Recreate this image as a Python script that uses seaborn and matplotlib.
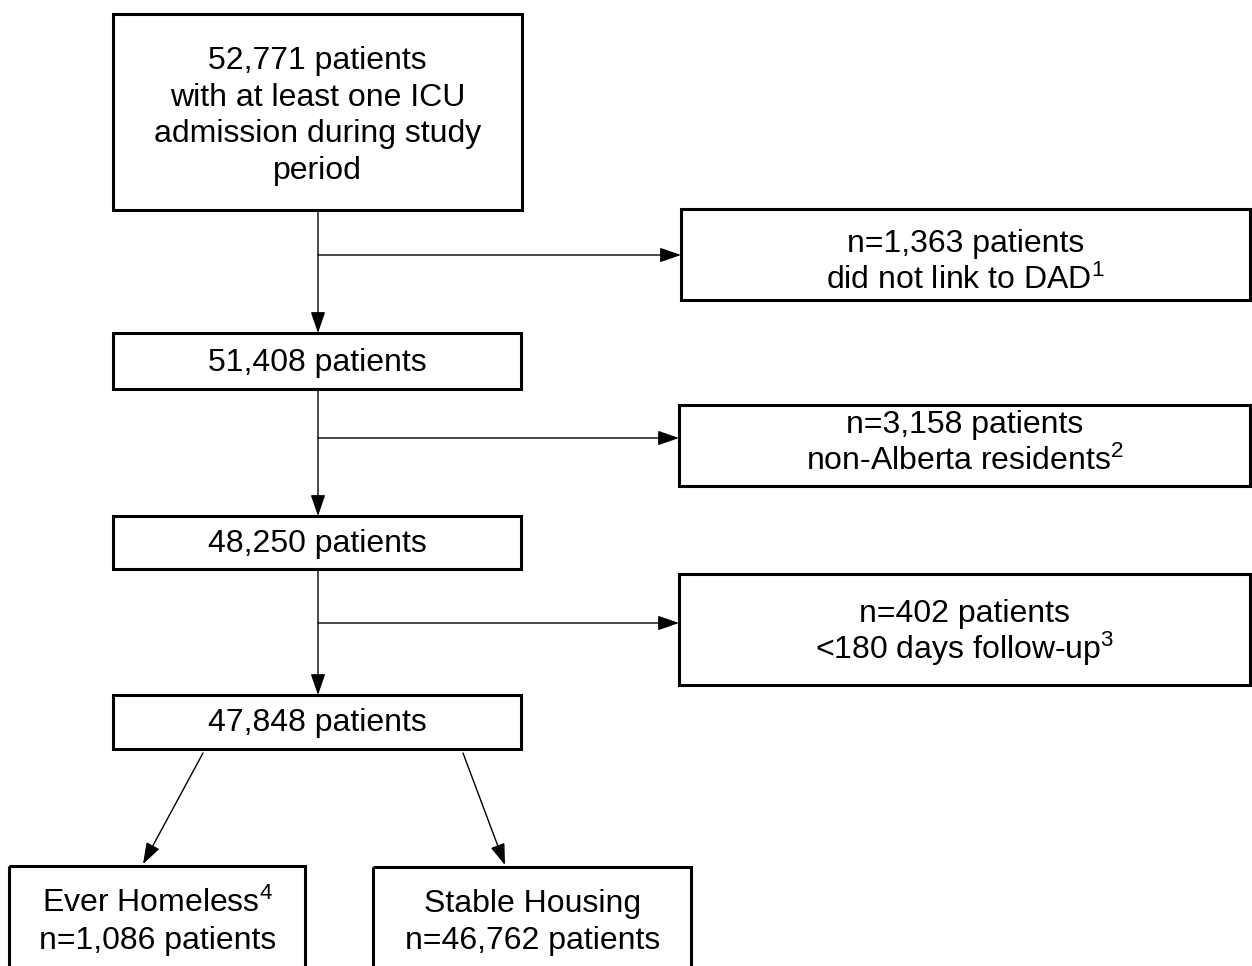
import matplotlib
matplotlib.use("Agg")
import matplotlib.pyplot as plt
import seaborn as sns
from matplotlib.patches import Rectangle

# Flowchart counts
total_icu = 52771
not_linked = 1363
non_alberta = 3158
short_followup = 402
ever_homeless = 1086

after_link = total_icu - not_linked
after_resident = after_link - non_alberta
final_cohort = after_resident - short_followup
stable_housing = final_cohort - ever_homeless

main_labels = [
    f"{total_icu:,} patients\nwith at least one ICU\nadmission during study\nperiod",
    f"{after_link:,} patients",
    f"{after_resident:,} patients",
    f"{final_cohort:,} patients",
]
excl_labels = [
    f"n={not_linked:,} patients\ndid not link to DAD$^{{1}}$",
    f"n={non_alberta:,} patients\nnon-Alberta residents$^{{2}}$",
    f"n={short_followup:,} patients\n<180 days follow-up$^{{3}}$",
]
group_labels = [
    f"Ever Homeless$^{{4}}$\nn={ever_homeless:,} patients",
    f"Stable Housing\nn={stable_housing:,} patients",
]

sns.set_style("white")
plt.rcParams['font.family'] = ['Liberation Sans', 'DejaVu Sans']
plt.rcParams['mathtext.fontset'] = 'custom'
plt.rcParams['mathtext.rm'] = 'Liberation Sans'
plt.rcParams['mathtext.default'] = 'regular'
plt.rcParams['text.color'] = 'black'

fig = plt.figure(figsize=(12.52, 9.66), dpi=100)
ax = fig.add_axes([0, 0, 1, 1])
ax.set_xlim(0, 1252)
ax.set_ylim(966, 0)
ax.axis("off")

fs = 23
lw_box = 2.2
lw_line = 1.0
pitch = 36.7


def box(x0, y0, x1, y1, text, cx=None, cy=None):
    ax.add_patch(Rectangle((x0, y0), x1 - x0, y1 - y0, fill=False,
                           edgecolor="black", linewidth=lw_box, zorder=3))
    cx = (x0 + x1) / 2 if cx is None else cx
    cy = (y0 + y1) / 2 if cy is None else cy
    lines = text.split("\n")
    n = len(lines)
    for i, ln in enumerate(lines):
        base = cy + (i - (n - 1) / 2) * pitch + 11
        ax.text(cx, base, ln, ha="center", va="baseline", fontsize=fs,
                color="black", zorder=4)


def arrow(x0, y0, x1, y1):
    ax.annotate("", xy=(x1, y1), xytext=(x0, y0),
                arrowprops=dict(arrowstyle="-|>,head_length=1.3,head_width=0.45",
                                color="black", lw=lw_line, shrinkA=0, shrinkB=0),
                zorder=2)


# main column boxes
main_boxes = [(113, 14, 522, 210), (113, 333, 521, 389),
              (113, 516, 521, 569), (113, 695, 521, 749)]
main_text_y = [113, 360, 541, 720]
for (x0, y0, x1, y1), lab, ty in zip(main_boxes, main_labels, main_text_y):
    box(x0, y0, x1, y1, lab, cy=ty)

# exclusion boxes
excl_boxes = [(681, 209, 1250, 300), (679, 405, 1250, 486),
              (679, 574, 1250, 685)]
excl_text_y = [259.5, 440.5, 629.5]
for (x0, y0, x1, y1), lab, ty in zip(excl_boxes, excl_labels, excl_text_y):
    box(x0, y0, x1, y1, lab, cy=ty)

# bottom groups (cut off at page edge)
group_boxes = [(9, 866, 305, 975), (373, 867, 691, 975)]
group_text = [(158, 919.5), (533, 919.5)]
for (x0, y0, x1, y1), lab, (tx, ty) in zip(group_boxes, group_labels, group_text):
    box(x0, y0, x1, y1, lab, cx=tx, cy=ty)

# connectors
spine_x = 318
branch_y = [255, 438, 623]
for i in range(3):
    top = main_boxes[i][3]
    bot = main_boxes[i + 1][1]
    arrow(spine_x, top, spine_x, bot)
    arrow(spine_x, branch_y[i], excl_boxes[i][0], branch_y[i])

arrow(203, 753, 143, 864)
arrow(463, 753, 505, 865)

fig.savefig("out.png", dpi=100, facecolor="white")
